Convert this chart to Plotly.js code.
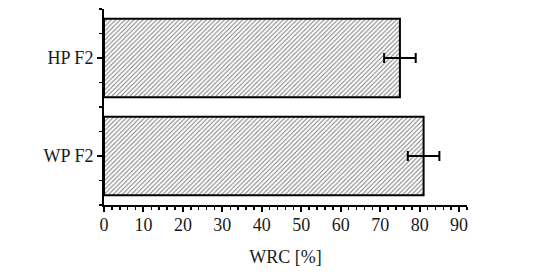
<!DOCTYPE html>
<html>
<head>
<meta charset="utf-8">
<script src="https://cdn.plot.ly/plotly-3.0.1.min.js"></script>
<style>
  body { margin:0; padding:0; background:#ffffff; }
  #myDiv { width:550px; height:276px; }
</style>
</head>
<body>
<div id="myDiv"></div>
<script>
// WRC bar chart, two samples
let categories=['WP F2','HP F2'];
let cat_pos=[2,6];          // slot of each category on the y scale
let wrc_values=[81,75];
let wrc_error=[4,4];
let x_ticks=[0,10,20,30,40,50,60,70,80,90];

let font_family='"Liberation Serif", "DejaVu Serif", serif';

let trace = { x: wrc_values,
              y: cat_pos,
              type: 'bar',
              orientation: 'h',
              width: 3.2,
              showlegend: false,
              marker: {
                  color: '#ffffff',
                  line: { color: '#000000', width: 2 },
                  pattern: { shape: '/', fgcolor: '#7a7a7a', bgcolor: '#ffffff', size: 3.2, solidity: 0.3 }
              },
              error_x: {
                  type: 'data',
                  array: wrc_error,
                  visible: true,
                  color: '#000000',
                  thickness: 2,
                  width: 5
              } };

let data=[trace];

let layout = {
  width: 550,
  height: 276,
  paper_bgcolor: '#ffffff',
  plot_bgcolor: '#ffffff',
  margin: { l:104, r:83, t:9, b:71 },
  font: { family: font_family, size:18, color:'#1a1a1a' },
  xaxis: {
    range: [0, 92],
    tickvals: x_ticks,
    ticks: 'outside',
    ticklen: 5,
    tickwidth: 2,
    tickcolor: '#000000',
    ticklabelstandoff: -3,
    showgrid: false,
    zeroline: false,
    showline: true,
    linecolor: '#000000',
    linewidth: 2,
    minor: { dtick: 2, ticks: 'outside', ticklen: 3, tickwidth: 1.5, tickcolor: '#000000', showgrid: false },
    title: { text: 'WRC [%]', font: { family: font_family, size:18, color:'#1a1a1a' }, standoff: 17 }
  },
  yaxis: {
    range: [0, 8],
    tickvals: cat_pos,
    ticktext: categories,
    ticks: 'outside',
    ticklen: 5,
    tickwidth: 2,
    tickcolor: '#000000',
    showgrid: false,
    zeroline: false,
    showline: true,
    linecolor: '#000000',
    linewidth: 2,
    minor: { dtick: 1, tick0: 0, ticks: 'outside', ticklen: 3, tickwidth: 1.5, tickcolor: '#000000', showgrid: false }
  }
};

let config = {displayModeBar:false, staticPlot:true};

Plotly.newPlot('myDiv', data, layout, config);
</script>
</body>
</html>
